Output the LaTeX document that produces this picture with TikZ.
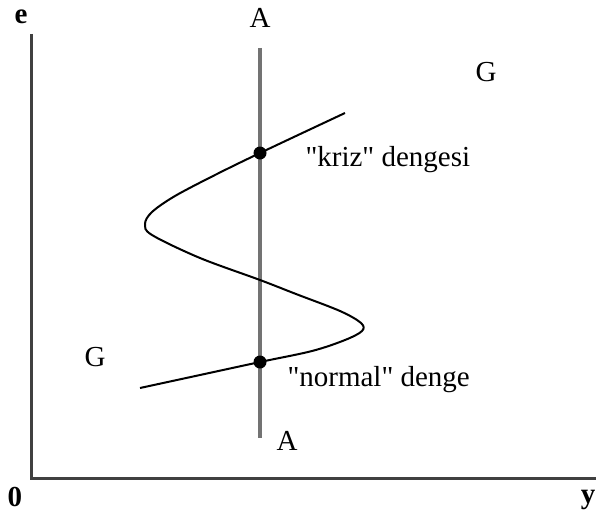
\documentclass[tikz,border=0pt]{standalone}
\usepackage{fontspec}
\setmainfont{Liberation Serif}
\usetikzlibrary{positioning}
\tikzset{
    myaxis/.style={line width=3pt,draw=black!75},
    myline/.style={line width=3.2pt,draw=black!55},
    mycurve/.style={line width=2pt,draw=black},
    mydot/.style={circle,fill=black,inner sep=0pt,minimum size=13pt},
    every node/.style={font=\fontsize{29}{33}\selectfont}
}
\newcommand{\qt}{\textquotedbl}
\begin{document}
\begin{tikzpicture}[x=1pt,y=-1pt]
  \useasboundingbox (0,0) rectangle (596,519);

  %---------------- axes ----------------
            \coordinate (O) at (31,478);
            \coordinate (Etop) at (31,34);
            \coordinate (Yend) at (596,478);
            \draw[myaxis] (Etop)--(O)--(Yend);
            \node[font=\fontsize{29}{33}\selectfont\bfseries,anchor=base] (e) at (21,24) {e};
            \node[font=\fontsize{29}{33}\selectfont\bfseries] (zero) at (15,497) {0};
            \node[font=\fontsize{29}{33}\selectfont\bfseries] (y) at (588,500) {y};

  %---------------- AA line ----------------
            \coordinate (Atop) at (260,48);
            \coordinate (Abot) at (260,438);
            \draw[myline] (Atop)--(Abot);
            \node (A1) at (260,18) {A};
            \node (A2) at (287,441) {A};

  %---------------- GG curve ----------------
            \draw[mycurve] plot[smooth,tension=0.55] coordinates {
                (140,388) (200,375) (260,362) (312,351) (345,340)
                (362,331) (361,323) (340,311) (296,294) (260,280)
                (200,258) (152,235) (145,224) (152,212) (175,196)
                (215,175) (260,153) (345,113)};
            \node (G1) at (486,72) {G};
            \node (G2) at (95,357) {G};

  %---------------- equilibria ----------------
            \node[mydot] (kriz) at (260,153) {};
            \node[mydot] (normal) at (260,362) {};
            \node[anchor=west] (krizlbl) at (302,160) {\qt kriz\qt{} dengesi};
            \node[anchor=west] (normallbl) at (284,380) {\qt normal\qt{} denge};

        \end{tikzpicture}
\end{document}
